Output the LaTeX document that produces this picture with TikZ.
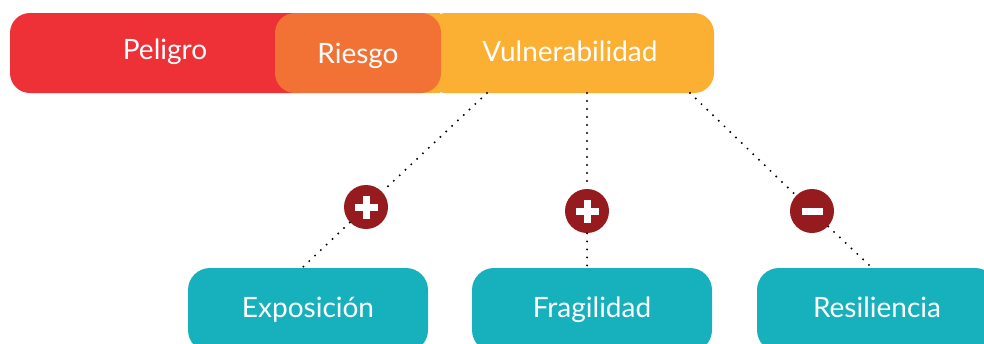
\documentclass[tikz,border=0pt]{standalone}
\usepackage{fontspec}
\setmainfont{Lato}
\usetikzlibrary{positioning}
\definecolor{rojo}{HTML}{EE3037}
\definecolor{naranja}{HTML}{F27235}
\definecolor{amarillo}{HTML}{FBB033}
\definecolor{turquesa}{HTML}{17B0BD}
\definecolor{granate}{HTML}{951B1E}
\tikzset{
  barra/.style={rounded corners=10pt, minimum height=40pt, inner sep=0pt,
    text height=10pt, text depth=2pt,
    text=white, font=\fontsize{14}{16}\selectfont},
  caja/.style={rounded corners=11pt, fill=turquesa, minimum width=120pt,
    minimum height=42pt, inner sep=0pt, text height=10pt, text depth=3pt,
    text=white, font=\fontsize{14}{16}\selectfont},
  signo/.style={circle, fill=granate, minimum size=22pt, inner sep=0pt},
  punteado/.style={line width=1.1pt, line cap=round, dash pattern=on 0pt off 4pt},
}
\begin{document}
\begin{tikzpicture}[x=0.5pt,y=-0.5pt]
\useasboundingbox (0,0) rectangle (984,343);
\clip (0,0) rectangle (984,343);
% barras de arriba
\node[barra, fill=rojo, minimum width=155pt, text depth=4pt] (peligro) at (165,53) {Peligro};
\node[barra, fill=amarillo, minimum width=144pt] (vulner) at (570,53) {Vulnerabilidad};
\fill[amarillo] (400,13) rectangle (440,93);
\node[barra, fill=naranja, minimum width=83pt, text depth=0pt] (riesgo) at (358,53) {Riesgo};
% cajas de abajo
\node[caja] (expo) at (308,310) {Exposición};
\node[caja] (fragil) at (592,310) {Fragilidad};
\node[caja] (resil) at (877,310) {Resiliencia};
% puntos de partida y llegada
\coordinate (v1) at (487,93);
\coordinate (v2) at (587,93);
\coordinate (v3) at (690,93);
\coordinate (e1) at (302,268);
\coordinate (e2) at (587,268);
\coordinate (e3) at (870,266);
% signos
\node[signo] (mas1) at (366,207) {};
\node[signo] (mas2) at (587,211) {};
\node[signo] (menos) at (812,211) {};
\draw[punteado] (v1) -- (mas1) -- (e1);
\draw[punteado] (v2) -- (mas2) -- (e2);
\draw[punteado] (v3) -- (menos) -- (e3);
\draw[white, line width=3.5pt] (mas1) +(-11.5,0) -- +(11.5,0) (mas1) +(0,-11.5) -- +(0,11.5);
\draw[white, line width=3.5pt] (mas2) +(-11.5,0) -- +(11.5,0) (mas2) +(0,-11.5) -- +(0,11.5);
\draw[white, line width=3.5pt] (menos) +(-10.5,0) -- +(10.5,0);
\end{tikzpicture}
\end{document}
